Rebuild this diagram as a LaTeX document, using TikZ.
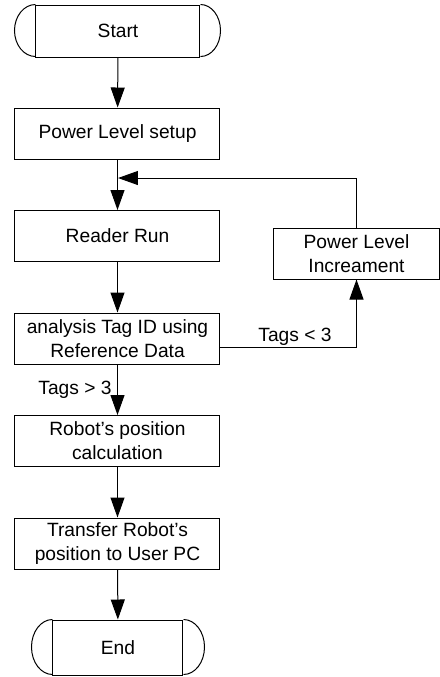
\documentclass[tikz,border=0pt]{standalone}
\usepackage{fontspec}
\setmainfont{Liberation Sans}
\usetikzlibrary{arrows.meta}
\begin{document}
\begin{tikzpicture}[x=0.5pt,y=-0.5pt,
  every node/.style={font=\fontsize{9.6}{12}\selectfont},
  proc/.style={draw,line width=0.5pt,minimum width=102.5pt,minimum height=25.5pt,inner sep=0pt,align=center},
  term/.style={draw,line width=0.5pt,inner sep=0pt,align=center},
  conn/.style={line width=0.5pt},
  arr/.style={line width=0.5pt,-{Triangle[length=10pt,width=7pt]}},
  lbl/.style={inner sep=0pt}]
\useasboundingbox (0,0) rectangle (440,677);
% Start terminator
\node[term,minimum width=82pt,minimum height=26pt] (start) at (118,31) {Start};
\draw[conn] (start.north west) arc[start angle=90,end angle=270,x radius=10.5pt,y radius=13pt];
\draw[conn] (start.north east) arc[start angle=90,end angle=-90,x radius=10pt,y radius=13pt];
% Process boxes
\node[proc] (pls) at (117.5,133.5) {Power Level setup};
\node[proc] (run) at (117.5,236) {Reader Run};
\node[proc] (ana) at (117.5,338.5) {analysis Tag ID using\\Reference Data};
\node[proc] (rob) at (117.5,441) {Robot’s position\\calculation};
\node[proc] (tra) at (117.5,543.5) {Transfer Robot’s\\position to User PC};
\node[proc,minimum width=83pt] (pli) at (356.5,253.5) {Power Level\\Increament};
% End terminator
\node[term,minimum width=65pt,minimum height=27.5pt] (end) at (118,647.5) {End};
\draw[conn] (end.north west) arc[start angle=90,end angle=270,x radius=10.5pt,y radius=13.75pt];
\draw[conn] (end.north east) arc[start angle=90,end angle=-90,x radius=10.5pt,y radius=13.75pt];
% Connectors
\coordinate (j) at (118,178);
\coordinate (t) at ([yshift=-4.25pt]ana.east);
\draw[arr] (start) -- (pls);
\draw[arr] (pls) -- (run);
\draw[arr] (pli.north) |- (j);
\draw[arr] (run) -- (ana);
\draw[arr] (t) -| (pli.south);
\draw[arr] (ana) -- (rob);
\draw[arr] (rob) -- (tra);
\draw[arr] (tra) -- (end);
% Labels
\node[lbl] (lt) at (295,337) {Tags < 3};
\node[lbl] (gt) at (75,390) {Tags > 3};
\end{tikzpicture}
\end{document}
